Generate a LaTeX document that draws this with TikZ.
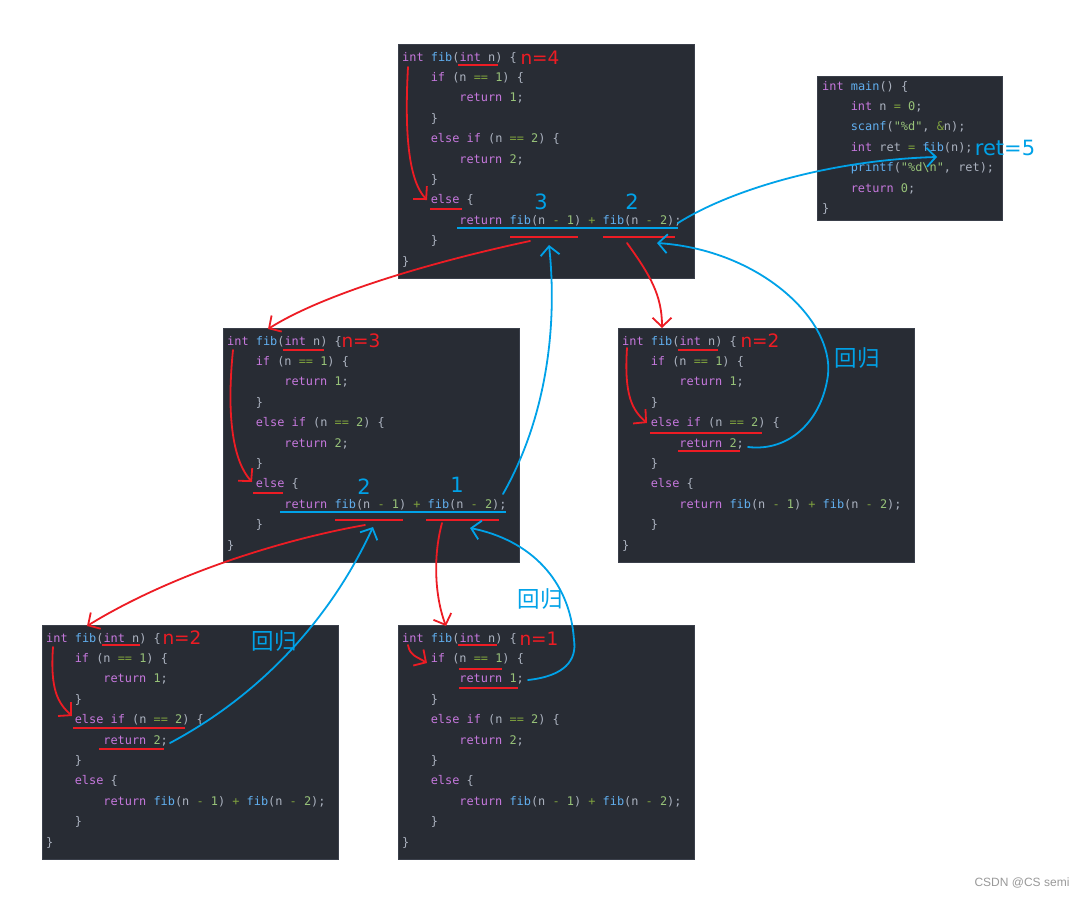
\documentclass[tikz,border=0pt]{standalone}
\usepackage{fontspec}
\usetikzlibrary{arrows.meta}
\newfontfamily\codefont{DejaVu Sans Mono}
\newfontfamily\labfont{DejaVu Sans}
\newfontfamily\cjkfont{Noto Sans CJK SC}
\newfontfamily\wmfont{Liberation Sans}
\definecolor{bg}{HTML}{282C34}
\definecolor{bgedge}{HTML}{3A3F4A}
\definecolor{txt}{HTML}{ABB2BF}
\definecolor{kw}{HTML}{C678DD}
\definecolor{fn}{HTML}{61AFEF}
\definecolor{num}{HTML}{98C379}
\definecolor{op}{HTML}{7FA23E}
\definecolor{pred}{RGB}{237,28,36}
\definecolor{pblue}{RGB}{0,162,232}
\definecolor{wm}{HTML}{999999}
\newcommand\ckw[1]{\textcolor{kw}{#1}}
\newcommand\cfn[1]{\textcolor{fn}{#1}}
\newcommand\cnum[1]{\textcolor{num}{#1}}
\newcommand\cop[1]{\textcolor{op}{#1}}
\newcommand\cstr[1]{\textcolor{num}{#1}}
\tikzset{
  codebox/.style={fill=bg, draw=bgedge, line width=0.6pt, inner sep=0pt,
    minimum width=296pt, minimum height=234pt, anchor=north west},
  mainbox/.style={fill=bg, draw=bgedge, line width=0.6pt, inner sep=0pt,
    minimum width=185pt, minimum height=144pt, anchor=north west},
  codeline/.style={anchor=base west, inner sep=0pt, text=txt,
    font=\codefont\fontsize{11.9pt}{14pt}\selectfont},
  redul/.style={draw=pred, line width=1.8pt},
  blueul/.style={draw=pblue, line width=1.8pt},
  redarr/.style={draw=pred, line width=1.8pt, line cap=round,
    -{Straight Barb[length=9pt,width=19pt]}},
  bluearr/.style={draw=pblue, line width=1.8pt, line cap=round,
    -{Straight Barb[length=9pt,width=19pt]}},
  nlab/.style={inner sep=0pt, text=pred, font=\labfont\fontsize{18.5pt}{20pt}\selectfont},
  blab/.style={inner sep=0pt, text=pblue, font=\labfont\fontsize{21pt}{24pt}\selectfont},
  cjklab/.style={inner sep=0pt, text=pblue, font=\cjkfont\fontsize{22.5pt}{24pt}\selectfont},
}
\newcommand\fibbox[3]{%
  \node[codebox] (#1) at (#2,#3) {};
  \begin{scope}[shift={(#2,#3)}]
    \node[codeline] (#1-1) at (4,17) {\ckw{int} \cfn{fib}(\ckw{int} n) \{};
    \node[codeline] (#1-2) at (32.6,37.4) {\ckw{if} (n \cop{==} \cnum{1}) \{};
    \node[codeline] (#1-3) at (61.2,57.8) {\ckw{return} \cnum{1};};
    \node[codeline] (#1-4) at (32.6,78.2) {\}};
    \node[codeline] (#1-5) at (32.6,98.6) {\ckw{else} \ckw{if} (n \cop{==} \cnum{2}) \{};
    \node[codeline] (#1-6) at (61.2,119) {\ckw{return} \cnum{2};};
    \node[codeline] (#1-7) at (32.6,139.4) {\}};
    \node[codeline] (#1-8) at (32.6,159.8) {\ckw{else} \{};
    \node[codeline] (#1-9) at (61.2,180.2) {\ckw{return} \cfn{fib}(n \cop{-} \cnum{1}) \cop{+} \cfn{fib}(n \cop{-} \cnum{2});};
    \node[codeline] (#1-10) at (32.6,200.6) {\}};
    \node[codeline] (#1-11) at (4,221) {\}};
  \end{scope}}
\begin{document}
\begin{tikzpicture}[x=1pt,y=-1pt]
\useasboundingbox (0,0) rectangle (1085,897);
\fill[white] (0,0) rectangle (1085,897);

% code boxes
\fibbox{fa}{398}{44}
\fibbox{fb}{223}{328}
\fibbox{fc}{618}{328}
\fibbox{fd}{42}{625}
\fibbox{fe}{398}{625}

% main box
\node[mainbox] (mn) at (817,76) {};
\begin{scope}[shift={(817,76)}]
  \node[codeline] (mn-1) at (5,14) {\ckw{int} \cfn{main}() \{};
  \node[codeline] (mn-2) at (33.6,34.4) {\ckw{int} n \cop{=} \cnum{0};};
  \node[codeline] (mn-3) at (33.6,54.8) {\cfn{scanf}(\cstr{"\%d"}, \cop{\&}n);};
  \node[codeline] (mn-4) at (33.6,75.2) {\ckw{int} ret \cop{=} \cfn{fib}(n);};
  \node[codeline] (mn-5) at (33.6,95.6) {\cfn{printf}(\cstr{"\%d\textbackslash n"}, ret);};
  \node[codeline] (mn-6) at (33.6,116) {\ckw{return} \cnum{0};};
  \node[codeline] (mn-7) at (5,136.4) {\}};
\end{scope}

% ---------- underlines ----------
% box n=4
\draw[redul] (458,65) -- (498,65);
\draw[redul] (430,209) -- (462,209);
\draw[blueul] (457,228) -- (678,228);
\draw[redul] (510,237) -- (578,237);
\draw[redul] (603,237) -- (675,237);
% box n=3
\draw[redul] (283,350) -- (324,350);
\draw[redul] (253,493) -- (283,493);
\draw[blueul] (280,512) -- (506,512);
\draw[redul] (335,520) -- (403,520);
\draw[redul] (426,520) -- (499,520);
% box n=2 right
\draw[redul] (678,350) -- (718,350);
\draw[redul] (650,433) -- (762,433);
\draw[redul] (678,451) -- (740,451);
% box n=2 bottom left
\draw[redul] (102,645) -- (140,645);
\draw[redul] (73,728) -- (185,728);
\draw[redul] (99,749) -- (164,749);
% box n=1
\draw[redul] (458,645) -- (497,645);
\draw[redul] (459,669) -- (502,669);
\draw[redul] (459,688) -- (518,688);

% ---------- labels ----------
\node[nlab] (l4) at (540,58) {n=4};
\node[nlab] (l3) at (361,341) {n=3};
\node[nlab] (l2a) at (760,341) {n=2};
\node[nlab] (l2b) at (182,638) {n=2};
\node[nlab] (l1) at (539,639) {n=1};
\node[blab] (d3) at (541,202) {3};
\node[blab] (d2) at (632,202) {2};
\node[blab] (d2b) at (364,486.5) {2};
\node[blab] (d1b) at (457,485) {1};
\node[blab] (ret) at (1005,148) {ret=5};
\node[cjklab] (h1) at (857,358) {回归};
\node[cjklab] (h2) at (274,641) {回归};
\node[cjklab] (h3) at (540,599) {回归};
\node[inner sep=0pt, text=wm, font=\wmfont\fontsize{12pt}{14pt}\selectfont] (wmk) at (1022,883) {CSDN @CS semi};

% ---------- coordinates ----------
\coordinate (r1s) at (408,67);  \coordinate (r1e) at (427,200);
\coordinate (r2s) at (530,241); \coordinate (r2e) at (268,329);
\coordinate (r3s) at (627,243); \coordinate (r3e) at (662,328);
\coordinate (r4s) at (233,350); \coordinate (r4e) at (252,482);
\coordinate (r5s) at (365,525); \coordinate (r5e) at (87,626);
\coordinate (r6s) at (442,523); \coordinate (r6e) at (446,626);
\coordinate (r7s) at (627,348); \coordinate (r7e) at (647,423);
\coordinate (r8s) at (53,647);  \coordinate (r8e) at (72,716);
\coordinate (r9s) at (408,645); \coordinate (r9e) at (427,663);
\coordinate (b1s) at (678,223); \coordinate (b1e) at (937,157);
\coordinate (b2s) at (503,494); \coordinate (b2e) at (549,245);
\coordinate (b3s) at (748,447); \coordinate (b3m) at (828,375); \coordinate (b3e) at (657,243);
\coordinate (b4s) at (170,743); \coordinate (b4e) at (373,527);
\coordinate (b5s) at (528,680); \coordinate (b5m) at (574,640); \coordinate (b5e) at (470,528);

% ---------- red arrows (calls) ----------
\draw[redarr] (r1s) .. controls (404,140) and (410,182) .. (r1e);
\draw[redarr] (r2s) .. controls (450,258) and (330,290) .. (r2e);
\draw[redarr] (r3s) .. controls (650,275) and (662,295) .. (r3e);
\draw[redarr] (r4s) .. controls (226,420) and (234,462) .. (r4e);
\draw[redarr] (r5s) .. controls (280,540) and (170,575) .. (r5e);
\draw[redarr] (r6s) .. controls (432,560) and (436,600) .. (r6e);
\draw[redarr] (r7s) .. controls (624,395) and (632,410) .. (r7e);
\draw[redarr] (r8s) .. controls (50,690) and (58,703) .. (r8e);
\draw[redarr] (r9s) .. controls (410,656) and (416,656) .. (r9e);

% ---------- blue arrows (returns) ----------
\draw[bluearr] (b1s) .. controls (730,190) and (830,160) .. (b1e);
\draw[bluearr] (b2s) .. controls (545,420) and (558,330) .. (b2e);
\draw[bluearr] (b3s) .. controls (790,452) and (822,420) .. (b3m) .. controls (834,320) and (760,250) .. (b3e);
\draw[bluearr] (b4s) .. controls (260,695) and (330,620) .. (b4e);
\draw[bluearr] (b5s) .. controls (565,676) and (577,660) .. (b5m) .. controls (570,580) and (530,540) .. (b5e);
\end{tikzpicture}
\end{document}
